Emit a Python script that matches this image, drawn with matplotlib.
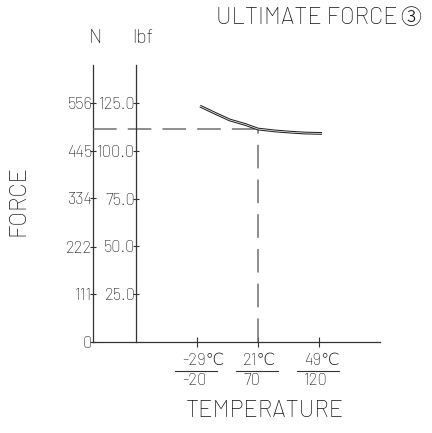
import matplotlib
matplotlib.use("Agg")
import matplotlib.pyplot as plt

plt.rcParams['font.family'] = ['Barlow', 'DejaVu Sans']
plt.rcParams['font.weight'] = 'light'
plt.rcParams['lines.scale_dashes'] = False

# tick values
n_ticks = [0, 111, 222, 334, 445, 556]
lbf_ticks = [25.0, 50.0, 75.0, 100.0, 125.0]
temp_c = ['-29', '21', '49']
temp_f = ['-20', '70', '120']

# curve (x = temperature tick index, y = lbf)
curve_x = [0.05, 0.3, 0.54, 0.79, 1.0, 1.28, 1.52, 1.77, 2.05]
curve_lbf = [123.4, 119.6, 116.1, 113.8, 111.4, 110.4, 109.8, 109.3, 109.1]

# reference point at 21 C
ref_idx = 1
ref_lbf = 111.4

N_PER_LBF = 4.448
ink = '#333333'
txt = '#111111'
dash = '#707070'

fig = plt.figure(figsize=(4.32, 4.33), dpi=100)
ax = fig.add_axes([93/432, 91/433, 287/432, 277/433])
ax.set_xlim(-1.705, 3.0)
ax.set_ylim(0, 144.9)

# dashed guide lines
ax.hlines(ref_lbf, ax.get_xlim()[0], ref_idx, colors=dash, lw=1.1,
          linestyles=(0, (17, 8)))
ax.vlines(ref_idx, 0, ref_lbf, colors=dash, lw=1.1, linestyles=(0, (17, 8)))

# double line curve
ax.plot(curve_x, curve_lbf, color='#222222', lw=2.0, solid_capstyle='butt')
ax.plot(curve_x, curve_lbf, color='white', lw=0.5, solid_capstyle='butt')

for s in ['top', 'right']:
    ax.spines[s].set_visible(False)
ax.spines['left'].set_position(('axes', 43/287))
for s in ['left', 'bottom']:
    ax.spines[s].set_color(ink)
    ax.spines[s].set_linewidth(0.9)

ax.set_yticks(lbf_ticks)
ax.set_yticklabels(['%.1f' % v for v in lbf_ticks])
ax.tick_params(axis='y', direction='inout', length=4, width=0.8, color=ink,
               pad=-1.5, labelsize=12, labelcolor=txt)

ax.set_xticks(range(len(temp_c)))
ax.set_xticklabels([])
ax.tick_params(axis='x', direction='inout', length=7, width=0.8, color=ink)

sec = ax.secondary_yaxis(0, functions=(lambda l: l * N_PER_LBF,
                                       lambda n: n / N_PER_LBF))
sec.set_yticks(n_ticks)
sec.set_yticklabels([str(v) for v in n_ticks])
sec.spines['left'].set_color(ink)
sec.spines['left'].set_linewidth(0.9)
sec.tick_params(axis='y', direction='inout', length=4, width=0.8, color=ink,
                pad=-1.5, labelsize=12, labelcolor=txt)

# temperature labels C over F
tr = ax.get_xaxis_transform()
for i, (c, f) in enumerate(zip(temp_c, temp_f)):
    ax.text(i - 0.25, -0.068, c + '\u2103', transform=tr, ha='left',
            va='center', fontsize=12, color=txt)
    ax.text(i - 0.25, -0.142, f, transform=tr, ha='left', va='center',
            fontsize=12, color=txt)
    ax.plot([i - 0.36, i + 0.33], [-0.106, -0.106], transform=tr,
            color=ink, lw=0.8, clip_on=False)

fig.text(95.5/432, 1 - 38/433, 'N', ha='center', va='center', fontsize=14,
         color=txt)
fig.text(143/432, 1 - 38/433, 'lbf', ha='center', va='center', fontsize=14,
         color=txt)
fig.text(398/432, 1 - 18/433, 'ULTIMATE FORCE', ha='right',
         va='center', fontsize=17, color=txt)
fig.text(421/432, 1 - 18/433, '\u2462', ha='right', va='center',
         fontsize=15, color=txt, family=['Noto Sans CJK JP', 'DejaVu Sans'],
         weight='light')
fig.text(18/432, 1 - 200/433, 'FORCE', rotation=90, ha='center',
         va='center', fontsize=17, color=txt)
fig.text(265/432, 1 - 411/433, 'TEMPERATURE', ha='center', va='center',
         fontsize=17, color=txt)

fig.savefig('out.png', dpi=100)
